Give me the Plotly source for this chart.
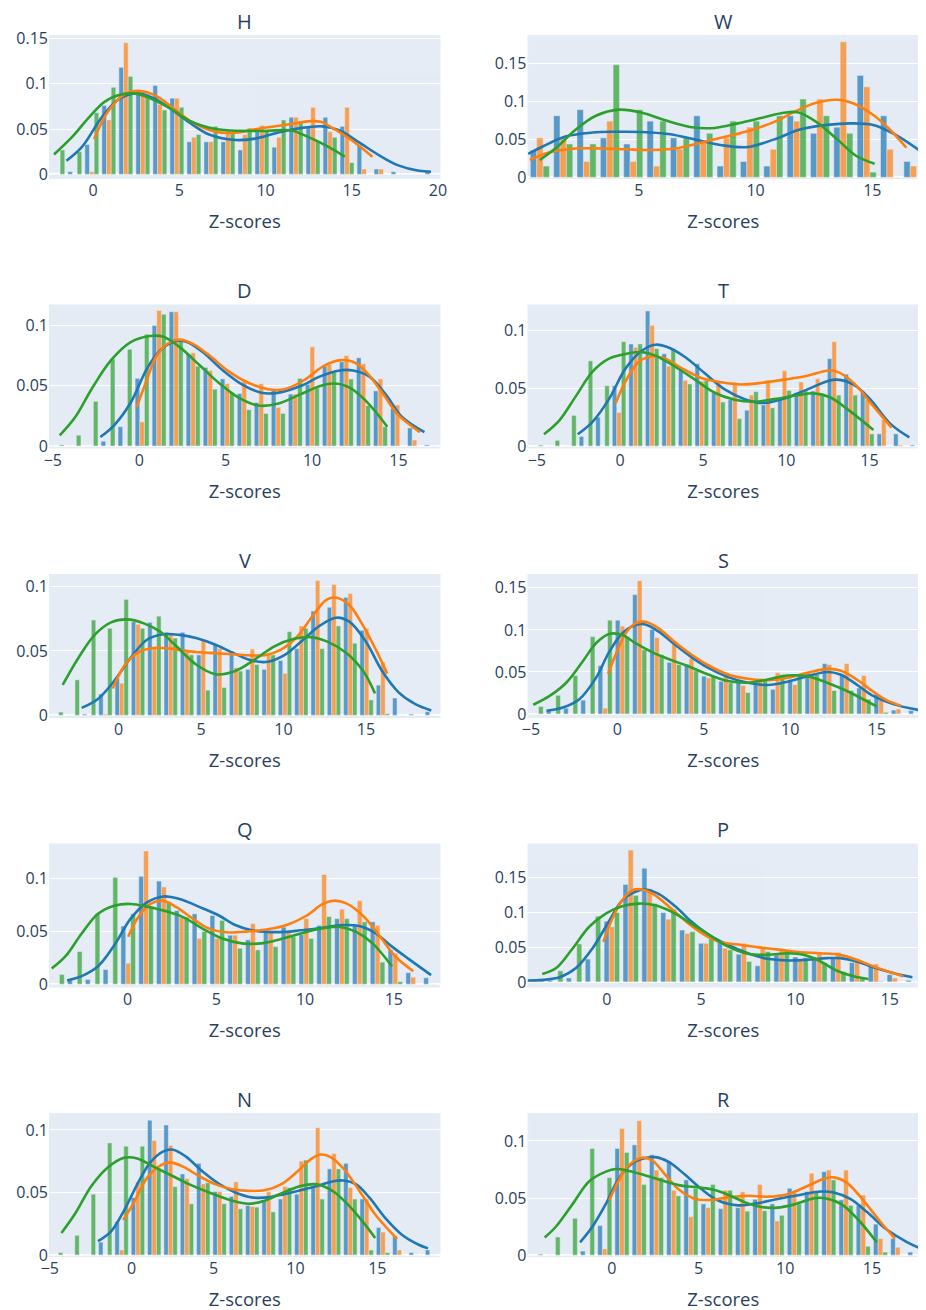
import plotly.graph_objects as go
from plotly.subplots import make_subplots

TITLES = ["H", "W", "D", "T", "V", "S", "Q", "P", "N", "R"]
SERIES_COLORS = ["#1f77b4", "#ff7f0e", "#2ca02c"]

# ---------------- H ----------------
H_start, H_step = -2.05, 0.987
H_blue = [0, 0.003, 0.033, 0.076, 0.118, 0.089, 0.098, 0.084, 0.036, 0.036, 0.036, 0.027, 0.051, 0.030, 0.063, 0.053, 0.063, 0.053, 0.032, 0.006, 0.003, 0, 0.003]
H_orange = [0, 0, 0.003, 0.060, 0.145, 0.091, 0.077, 0.084, 0.041, 0.036, 0.048, 0.044, 0.054, 0.041, 0.063, 0.074, 0.047, 0.074, 0.006, 0.006, 0, 0, 0]
H_green = [0.027, 0.025, 0.068, 0.096, 0.108, 0.088, 0.071, 0.074, 0.044, 0.053, 0.045, 0.051, 0.048, 0.060, 0.059, 0.037, 0.041, 0.013, 0, 0, 0, 0, 0]
H_bx = [-1.55, -0.66, 0.47, 1.42, 2.56, 3.5, 4.45, 5.6, 6.73, 8.25, 9.4, 10.7, 12.0, 13.3, 14.3, 15.45, 16.6, 17.7, 18.9, 19.6]
H_by = [0.015, 0.030, 0.062, 0.082, 0.0895, 0.084, 0.073, 0.057, 0.044, 0.038, 0.0395, 0.046, 0.051, 0.053, 0.0485, 0.035, 0.021, 0.010, 0.004, 0.003]
H_ox = [0.06, 0.85, 1.8, 2.75, 3.7, 4.65, 5.8, 7.1, 8.25, 9.76, 11.3, 12.6, 13.2, 13.9, 14.9, 16.2]
H_oy = [0.039, 0.069, 0.088, 0.092, 0.086, 0.073, 0.057, 0.047, 0.046, 0.051, 0.055, 0.0587, 0.058, 0.051, 0.039, 0.0196]
H_gx = [-2.27, -1.23, -0.28, 0.66, 1.61, 2.46, 3.3, 4.45, 5.6, 7.1, 8.6, 10.1, 11.5, 12.4, 13.55, 14.6]
H_gy = [0.022, 0.041, 0.062, 0.080, 0.088, 0.089, 0.084, 0.073, 0.059, 0.050, 0.048, 0.048, 0.0485, 0.042, 0.0315, 0.0196]

# ---------------- W ----------------
W_start, W_step = 0.76, 1.0
W_blue = [0.036, 0.081, 0.089, 0.052, 0.044, 0.074, 0.052, 0.081, 0.015, 0.021, 0.015, 0.081, 0.058, 0.066, 0.134, 0.081, 0.021]
W_orange = [0.052, 0.052, 0.021, 0.074, 0.021, 0.015, 0.037, 0.047, 0.052, 0.066, 0.037, 0.074, 0.103, 0.178, 0.119, 0.037, 0.015]
W_green = [0.015, 0.044, 0.044, 0.148, 0.089, 0.074, 0.052, 0.058, 0.074, 0.074, 0.081, 0.103, 0.081, 0.058, 0.007, 0, 0]
W_bx = [0.26, 0.9, 1.89, 3.02, 4.0, 5.14, 6.27, 7.4, 8.5, 9.67, 10.8, 11.9, 13.06, 14.05, 15.04, 16.0, 17.0]
W_by = [0.031, 0.041, 0.054, 0.059, 0.060, 0.0597, 0.057, 0.050, 0.0426, 0.040, 0.050, 0.063, 0.069, 0.071, 0.069, 0.056, 0.036]
W_ox = [0.33, 1.18, 2.3, 3.44, 4.43, 5.56, 6.56, 7.7, 8.8, 9.8, 10.8, 11.65, 12.6, 13.5, 14.2, 15.04, 15.75, 16.46]
W_oy = [0.023, 0.033, 0.038, 0.038, 0.037, 0.036, 0.038, 0.046, 0.054, 0.062, 0.073, 0.086, 0.098, 0.102, 0.097, 0.082, 0.063, 0.039]
W_gx = [0.76, 1.46, 2.3, 3.16, 4.15, 5.14, 6.13, 7.26, 8.25, 9.24, 10.23, 11.2, 11.8, 12.6, 13.5, 14.3, 15.1]
W_gy = [0.023, 0.039, 0.063, 0.081, 0.089, 0.085, 0.075, 0.066, 0.065, 0.071, 0.078, 0.085, 0.0856, 0.073, 0.050, 0.0285, 0.018]

# ---------------- D ----------------
D_start, D_step = -4.76, 0.985
D_blue = [0, 0, 0, 0.004, 0.016, 0.056, 0.0997, 0.111, 0.076, 0.065, 0.0555, 0.0434, 0.036, 0.046, 0.043, 0.051, 0.066, 0.0697, 0.073, 0.0456, 0.031, 0.015, 0.001]
D_orange = [0, 0, 0, 0, 0, 0.020, 0.112, 0.111, 0.077, 0.0625, 0.0515, 0.0536, 0.0515, 0.032, 0.043, 0.082, 0.0675, 0.0748, 0.068, 0.0555, 0.034, 0.005, 0]
D_green = [0.001, 0.009, 0.037, 0.072, 0.080, 0.0925, 0.109, 0.087, 0.066, 0.047, 0.044, 0.030, 0.027, 0.027, 0.056, 0.048, 0.061, 0.0555, 0.0335, 0.016, 0, 0, 0]
D_bx = [-2.25, -1.44, -0.49, 0.45, 1.21, 1.97, 2.72, 3.67, 4.8, 5.94, 7.07, 8.0, 9.34, 10.47, 11.6, 12.36, 13.3, 14.25, 15.2, 16.5]
D_by = [0.0075, 0.0174, 0.036, 0.064, 0.079, 0.0863, 0.0863, 0.0777, 0.063, 0.051, 0.044, 0.044, 0.0496, 0.0576, 0.0625, 0.0625, 0.0576, 0.0429, 0.024, 0.0115]
D_ox = [-0.15, 0.45, 1.02, 1.78, 2.34, 3.1, 4.05, 5.18, 6.31, 7.45, 8.4, 9.53, 10.66, 11.6, 12.36, 13.1, 14.06, 15.0, 16.24]
D_oy = [0.032, 0.055, 0.075, 0.0858, 0.088, 0.0845, 0.075, 0.0617, 0.0523, 0.047, 0.047, 0.0544, 0.066, 0.071, 0.0697, 0.0617, 0.044, 0.0255, 0.0115]
D_gx = [-4.6, -3.7, -2.76, -1.63, -0.49, 0.64, 1.4, 2.34, 3.48, 4.6, 5.75, 6.88, 8.0, 9.34, 10.47, 11.23, 12.17, 13.1, 14.35]
D_gy = [0.0088, 0.024, 0.047, 0.071, 0.086, 0.091, 0.0903, 0.0818, 0.067, 0.0523, 0.040, 0.0335, 0.0349, 0.0429, 0.0496, 0.0517, 0.0483, 0.0375, 0.016]

# ---------------- T ----------------
T_start, T_step = -5.03, 0.995
T_blue = [0, 0, 0, 0.0084, 0.025, 0.052, 0.088, 0.1165, 0.0796, 0.066, 0.071, 0.046, 0.040, 0.031, 0.0355, 0.040, 0.046, 0.0475, 0.0754, 0.062, 0.047, 0.0106, 0.0106, 0.001]
T_orange = [0, 0, 0, 0, 0, 0.029, 0.085, 0.104, 0.069, 0.0567, 0.056, 0.055, 0.055, 0.044, 0.0567, 0.065, 0.0553, 0.058, 0.090, 0.055, 0.040, 0.023, 0.001, 0]
T_green = [0.001, 0.005, 0.0265, 0.0735, 0.052, 0.090, 0.088, 0.084, 0.084, 0.0536, 0.0567, 0.038, 0.0237, 0.047, 0.033, 0.048, 0.0475, 0.044, 0.044, 0.044, 0.0106, 0, 0, 0]
T_bx = [-2.54, -1.65, -0.66, 0.34, 1.33, 2.13, 2.92, 3.91, 5.1, 6.3, 7.5, 8.68, 9.87, 11.27, 12.46, 13.05, 14.05, 15.04, 16.23, 17.4]
T_by = [0.0103, 0.021, 0.0405, 0.067, 0.0824, 0.0874, 0.085, 0.0768, 0.0628, 0.0489, 0.0405, 0.0372, 0.041, 0.0489, 0.0559, 0.0573, 0.053, 0.0405, 0.0196, 0.0075]
T_ox = [-0.26, 0.34, 1.13, 1.93, 2.72, 3.72, 4.9, 6.1, 7.29, 8.48, 9.87, 11.27, 12.46, 13.05, 14.05, 15.04, 16.33]
T_oy = [0.0369, 0.056, 0.0726, 0.0774, 0.0754, 0.067, 0.0587, 0.055, 0.0531, 0.0545, 0.0573, 0.0606, 0.065, 0.0642, 0.0545, 0.0377, 0.016]
T_gx = [-4.57, -3.64, -2.64, -1.65, -0.66, 0.54, 1.33, 2.13, 3.32, 4.51, 5.7, 6.9, 8.09, 9.28, 10.67, 11.66, 12.66, 13.65, 15.24]
T_gy = [0.0103, 0.0223, 0.0433, 0.0642, 0.0754, 0.080, 0.081, 0.078, 0.0684, 0.0573, 0.046, 0.040, 0.0383, 0.0405, 0.0439, 0.0455, 0.0419, 0.0321, 0.014]

# ---------------- V ----------------
V_start, V_step = -3.77, 0.99
V_blue = [0, 0, 0.001, 0.0166, 0.029, 0.0727, 0.0722, 0.0645, 0.0645, 0.047, 0.055, 0.050, 0.0357, 0.0357, 0.0426, 0.0518, 0.081, 0.0839, 0.0916, 0.066, 0.0235, 0.0135, 0.001, 0.003]
V_orange = [0, 0, 0, 0.001, 0.025, 0.0707, 0.052, 0.063, 0.050, 0.058, 0.052, 0.037, 0.0515, 0.048, 0.0327, 0.0694, 0.1046, 0.1015, 0.0946, 0.0676, 0.0413, 0, 0, 0]
V_green = [0.0026, 0.0276, 0.074, 0.0676, 0.090, 0.0676, 0.077, 0.060, 0.047, 0.0196, 0.0217, 0.0344, 0.0395, 0.047, 0.065, 0.0676, 0.0518, 0.0694, 0.056, 0.012, 0.0013, 0, 0, 0]
V_bx = [-2.24, -1.25, -0.26, 0.73, 1.72, 2.71, 3.7, 4.7, 5.88, 7.07, 8.06, 9.05, 10.05, 11.04, 12.2, 13.2, 13.99, 14.99, 15.98, 16.98, 17.97, 18.96]
V_by = [0.0059, 0.0128, 0.0268, 0.0446, 0.0587, 0.063, 0.0625, 0.060, 0.0548, 0.0477, 0.0426, 0.0416, 0.0467, 0.0569, 0.0696, 0.0758, 0.0727, 0.0574, 0.0344, 0.0179, 0.0089, 0.0038]
V_ox = [-0.36, 0.34, 1.13, 2.12, 3.11, 4.3, 5.49, 6.68, 7.87, 8.86, 9.85, 10.84, 11.83, 12.62, 13.22, 14.0, 14.8, 15.6, 16.29]
V_oy = [0.0209, 0.0383, 0.0485, 0.0523, 0.0518, 0.0497, 0.0485, 0.0477, 0.0467, 0.0467, 0.051, 0.0612, 0.0783, 0.0898, 0.0913, 0.0855, 0.0702, 0.051, 0.0324]
V_gx = [-3.39, -2.44, -1.45, -0.46, 0.53, 1.53, 2.52, 3.51, 4.7, 5.88, 7.07, 8.26, 9.45, 10.64, 11.63, 12.62, 13.81, 14.8, 15.55]
V_gy = [0.0237, 0.0446, 0.0625, 0.0722, 0.0745, 0.0714, 0.065, 0.0536, 0.0395, 0.0319, 0.0344, 0.0434, 0.0536, 0.0594, 0.0607, 0.0574, 0.0485, 0.035, 0.0171]

# ---------------- S ----------------
S_start, S_step = -4.7, 0.998
S_blue = [0, 0.004, 0.007, 0.0165, 0.0576, 0.1116, 0.142, 0.1007, 0.0615, 0.0595, 0.045, 0.039, 0.0372, 0.035, 0.0294, 0.041, 0.050, 0.060, 0.047, 0.031, 0.0235, 0.0047, 0.004]
S_orange = [0, 0, 0, 0, 0.007, 0.1046, 0.1586, 0.0909, 0.087, 0.066, 0.043, 0.049, 0.034, 0.041, 0.049, 0.035, 0.047, 0.0588, 0.060, 0.0458, 0.0196, 0.006, 0]
S_green = [0.009, 0.0223, 0.0458, 0.092, 0.1116, 0.092, 0.0764, 0.0705, 0.0588, 0.0517, 0.045, 0.0372, 0.0255, 0.040, 0.047, 0.047, 0.047, 0.028, 0.028, 0.0176, 0.002, 0, 0]
S_bx = [-4.1, -3.15, -2.2, -1.24, -0.48, 0.29, 1.05, 1.62, 2.39, 3.34, 4.3, 5.26, 6.4, 7.55, 8.7, 9.84, 11.0, 12.13, 12.9, 13.85, 14.8, 15.96, 17.45]
S_by = [0.004, 0.0078, 0.0176, 0.043, 0.0736, 0.096, 0.1058, 0.1065, 0.098, 0.0823, 0.0674, 0.0548, 0.0439, 0.0372, 0.0345, 0.0384, 0.045, 0.050, 0.047, 0.035, 0.0215, 0.0118, 0.0047]
S_ox = [-0.54, -0.1, 0.48, 1.05, 1.62, 2.39, 3.34, 4.3, 5.26, 6.4, 7.55, 8.7, 9.84, 11.0, 12.13, 12.9, 13.85, 14.8, 15.57, 16.4]
S_oy = [0.048, 0.0705, 0.096, 0.1077, 0.1097, 0.1018, 0.0854, 0.0705, 0.058, 0.047, 0.0419, 0.0403, 0.0431, 0.049, 0.0537, 0.0517, 0.0411, 0.0266, 0.0165, 0.0098]
S_gx = [-4.87, -3.92, -2.96, -2.0, -1.24, -0.48, 0.29, 1.05, 2.0, 2.96, 4.1, 5.26, 6.4, 7.55, 8.7, 9.84, 11.0, 12.13, 13.28, 15.0]
S_gy = [0.011, 0.0215, 0.0372, 0.0627, 0.0842, 0.0952, 0.094, 0.0842, 0.0736, 0.0654, 0.0568, 0.047, 0.0392, 0.0372, 0.0411, 0.0458, 0.045, 0.0372, 0.0274, 0.009]

# ---------------- Q ----------------
Q_start, Q_step = -3.97, 1.003
Q_blue = [0, 0.004, 0.0046, 0.014, 0.055, 0.102, 0.0975, 0.0697, 0.0666, 0.065, 0.0464, 0.042, 0.051, 0.054, 0.047, 0.0557, 0.062, 0.056, 0.059, 0.0325, 0.011, 0.0062]
Q_orange = [0, 0, 0, 0, 0.020, 0.126, 0.092, 0.0635, 0.0433, 0.0433, 0.0464, 0.0573, 0.0495, 0.050, 0.062, 0.1037, 0.071, 0.079, 0.0557, 0.0294, 0.0068, 0]
Q_green = [0.0093, 0.031, 0.0666, 0.101, 0.0666, 0.074, 0.078, 0.0635, 0.050, 0.0604, 0.034, 0.0325, 0.0356, 0.045, 0.0433, 0.064, 0.062, 0.059, 0.021, 0.0025, 0, 0]
Q_bx = [-3.4, -2.58, -1.66, -0.74, 0.18, 1.1, 2.02, 2.94, 4.23, 5.15, 6.07, 7.0, 7.9, 8.84, 9.76, 10.86, 12.15, 13.07, 13.99, 14.9, 15.83, 17.1]
Q_by = [0.0037, 0.0077, 0.017, 0.037, 0.062, 0.0774, 0.083, 0.0805, 0.0718, 0.065, 0.056, 0.051, 0.0495, 0.0495, 0.051, 0.053, 0.056, 0.055, 0.048, 0.0356, 0.024, 0.0087]
Q_ox = [0.04, 0.55, 1.29, 2.02, 2.76, 3.68, 4.6, 5.7, 6.8, 7.9, 9.0, 10.1, 11.0, 11.6, 12.33, 13.25, 14.17, 15.09, 16.1]
Q_oy = [0.0449, 0.062, 0.0759, 0.079, 0.0728, 0.062, 0.0526, 0.049, 0.050, 0.052, 0.0563, 0.065, 0.0759, 0.079, 0.0765, 0.065, 0.0464, 0.0263, 0.0124]
Q_gx = [-4.27, -3.5, -2.58, -1.66, -0.74, 0.18, 1.1, 2.02, 3.13, 4.23, 5.34, 6.44, 7.55, 8.65, 9.76, 10.86, 11.96, 12.88, 13.8, 14.9]
Q_gy = [0.0149, 0.0263, 0.048, 0.0666, 0.0743, 0.0759, 0.0734, 0.0697, 0.0635, 0.0526, 0.0433, 0.0387, 0.0387, 0.0427, 0.048, 0.0526, 0.0542, 0.0495, 0.0387, 0.017]

# ---------------- P ----------------
P_start, P_step = -3.73, 1.0
P_blue = [0.001, 0.002, 0.0057, 0.033, 0.0876, 0.1405, 0.1638, 0.100, 0.0748, 0.0557, 0.058, 0.040, 0.0233, 0.039, 0.036, 0.036, 0.035, 0.028, 0.0224, 0.0105, 0.0024]
P_orange = [0, 0, 0, 0, 0.0795, 0.190, 0.1343, 0.0905, 0.070, 0.0557, 0.0486, 0.0557, 0.0486, 0.045, 0.0305, 0.0414, 0.0428, 0.0305, 0.026, 0.0057, 0]
P_green = [0.002, 0.016, 0.0548, 0.0948, 0.100, 0.1248, 0.1129, 0.1048, 0.0724, 0.065, 0.0462, 0.0295, 0.0438, 0.046, 0.035, 0.028, 0.015, 0.0048, 0.001, 0, 0]
P_bx = [-4.2, -3.38, -2.5, -1.63, -0.75, 0.12, 0.82, 1.52, 2.05, 2.75, 3.63, 4.5, 5.38, 6.43, 7.48, 8.53, 9.58, 10.63, 11.68, 12.38, 13.26, 14.13, 15.18, 16.2]
P_by = [0.002, 0.003, 0.0067, 0.020, 0.0486, 0.0876, 0.1176, 0.130, 0.1333, 0.127, 0.109, 0.0867, 0.0686, 0.0533, 0.0414, 0.0333, 0.031, 0.0319, 0.0343, 0.0343, 0.0295, 0.021, 0.0129, 0.0067]
P_ox = [-0.18, 0.3, 0.82, 1.35, 1.87, 2.57, 3.45, 4.33, 5.2, 6.08, 7.13, 8.18, 9.23, 10.28, 11.33, 12.38, 13.26, 14.13, 15.0, 15.71]
P_oy = [0.058, 0.0914, 0.1176, 0.1319, 0.1333, 0.1248, 0.1048, 0.0843, 0.0676, 0.0571, 0.0533, 0.0495, 0.0462, 0.0429, 0.0414, 0.039, 0.0319, 0.0224, 0.0143, 0.0081]
P_gx = [-3.42, -2.68, -1.8, -0.93, -0.05, 0.82, 1.7, 2.57, 3.45, 4.33, 5.38, 6.43, 7.48, 8.53, 9.58, 10.46, 11.33, 12.2, 13.08, 13.87]
P_gy = [0.0114, 0.020, 0.0486, 0.0795, 0.0986, 0.109, 0.1129, 0.1105, 0.101, 0.0867, 0.0686, 0.051, 0.0405, 0.039, 0.0414, 0.039, 0.0295, 0.0162, 0.0081, 0.0043]

# ---------------- N ----------------
N_start, N_step = -4.61, 0.998
N_blue = [0, 0, 0, 0.0104, 0.0267, 0.046, 0.1078, 0.1039, 0.0648, 0.0733, 0.0508, 0.0469, 0.0396, 0.0435, 0.0448, 0.0487, 0.0539, 0.0689, 0.0733, 0.0448, 0.022, 0.015, 0.002, 0.0041]
N_orange = [0, 0, 0, 0, 0.0041, 0.0585, 0.0915, 0.0876, 0.0611, 0.057, 0.0508, 0.0585, 0.0389, 0.0508, 0.0547, 0.0751, 0.1018, 0.0811, 0.054, 0.0448, 0.0184, 0.0041, 0, 0]
N_green = [0.002, 0.0158, 0.0487, 0.0896, 0.087, 0.087, 0.0694, 0.0547, 0.041, 0.0578, 0.041, 0.037, 0.0383, 0.0345, 0.0539, 0.0759, 0.0448, 0.0689, 0.0448, 0.0041, 0.002, 0, 0, 0]
N_bx = [-2.06, -1.26, -0.46, 0.34, 1.14, 1.94, 2.53, 3.33, 4.33, 5.33, 6.33, 7.33, 8.32, 9.32, 10.32, 11.32, 12.32, 12.91, 13.71, 14.51, 15.51, 16.5, 17.5, 18.1]
N_by = [0.0111, 0.019, 0.0358, 0.0565, 0.0741, 0.0829, 0.0842, 0.0785, 0.0668, 0.057, 0.050, 0.0461, 0.0461, 0.0487, 0.0518, 0.0552, 0.059, 0.0596, 0.0565, 0.0461, 0.0293, 0.0163, 0.0085, 0.0054]
N_ox = [-0.52, 0.14, 0.94, 1.74, 2.34, 3.13, 4.13, 5.13, 6.13, 7.13, 8.12, 9.12, 10.12, 10.92, 11.52, 12.12, 12.91, 13.91, 14.91, 16.21]
N_oy = [0.028, 0.0422, 0.0617, 0.0715, 0.0741, 0.0707, 0.063, 0.0565, 0.0526, 0.0513, 0.0518, 0.0565, 0.0668, 0.0764, 0.0803, 0.0785, 0.0694, 0.0513, 0.0319, 0.013]
N_gx = [-4.29, -3.45, -2.46, -1.46, -0.46, 0.34, 1.34, 2.34, 3.53, 4.73, 6.13, 7.13, 8.12, 9.12, 10.32, 11.32, 12.32, 13.31, 14.11, 14.87]
N_gy = [0.0176, 0.0332, 0.0552, 0.070, 0.0777, 0.0772, 0.0707, 0.0642, 0.0565, 0.050, 0.0435, 0.041, 0.0435, 0.0492, 0.0552, 0.0565, 0.0508, 0.0389, 0.0267, 0.0137]

# ---------------- R ----------------
R_start, R_step = -4.38, 0.9935
R_blue = [0, 0, 0, 0.0037, 0.026, 0.0935, 0.0966, 0.088, 0.0822, 0.066, 0.045, 0.0408, 0.0417, 0.049, 0.045, 0.0586, 0.0558, 0.0732, 0.0485, 0.0437, 0.0273, 0.0146, 0.0028]
R_orange = [0, 0, 0, 0, 0.0056, 0.111, 0.1177, 0.0746, 0.0569, 0.0338, 0.0417, 0.0569, 0.0555, 0.062, 0.030, 0.055, 0.0718, 0.0746, 0.0746, 0.0527, 0.0146, 0.007, 0]
R_green = [0.001, 0.016, 0.0324, 0.0935, 0.068, 0.090, 0.062, 0.068, 0.052, 0.0586, 0.062, 0.0569, 0.0386, 0.039, 0.035, 0.045, 0.0558, 0.066, 0.0437, 0.0079, 0.0028, 0, 0]
R_bx = [-1.83, -1.1, -0.34, 0.42, 1.18, 1.94, 2.51, 3.28, 4.23, 5.18, 6.13, 7.28, 8.42, 9.56, 10.9, 12.04, 12.8, 13.75, 14.7, 15.85, 16.99, 17.71]
R_by = [0.0113, 0.0254, 0.045, 0.0676, 0.0803, 0.0851, 0.0859, 0.0817, 0.0704, 0.0577, 0.0479, 0.0437, 0.0456, 0.0493, 0.053, 0.0558, 0.0549, 0.0493, 0.038, 0.0225, 0.0118, 0.0065]
R_ox = [-0.15, 0.42, 0.99, 1.75, 2.32, 3.09, 3.85, 4.8, 5.75, 6.7, 7.85, 8.99, 10.13, 11.28, 12.23, 12.8, 13.56, 14.51, 15.47, 16.32]
R_oy = [0.0479, 0.0662, 0.0789, 0.0854, 0.0831, 0.0704, 0.0577, 0.0493, 0.0485, 0.0507, 0.0521, 0.0513, 0.0535, 0.0606, 0.067, 0.0682, 0.0634, 0.0479, 0.0296, 0.0146]
R_gx = [-3.87, -3.2, -2.25, -1.3, -0.34, 0.23, 0.99, 1.94, 2.9, 3.85, 4.8, 5.75, 6.7, 7.66, 8.61, 9.56, 10.51, 11.66, 12.23, 13.18, 14.13, 15.28]
R_gy = [0.0155, 0.0254, 0.045, 0.0648, 0.0732, 0.0755, 0.0738, 0.0699, 0.0654, 0.0614, 0.0597, 0.0577, 0.053, 0.0465, 0.0423, 0.0417, 0.0445, 0.0499, 0.0501, 0.0451, 0.0324, 0.0113]

# ------------- assemble -------------
panels = [
    (H_start, H_step, (H_blue, H_orange, H_green), ((H_bx, H_by), (H_ox, H_oy), (H_gx, H_gy))),
    (W_start, W_step, (W_blue, W_orange, W_green), ((W_bx, W_by), (W_ox, W_oy), (W_gx, W_gy))),
    (D_start, D_step, (D_blue, D_orange, D_green), ((D_bx, D_by), (D_ox, D_oy), (D_gx, D_gy))),
    (T_start, T_step, (T_blue, T_orange, T_green), ((T_bx, T_by), (T_ox, T_oy), (T_gx, T_gy))),
    (V_start, V_step, (V_blue, V_orange, V_green), ((V_bx, V_by), (V_ox, V_oy), (V_gx, V_gy))),
    (S_start, S_step, (S_blue, S_orange, S_green), ((S_bx, S_by), (S_ox, S_oy), (S_gx, S_gy))),
    (Q_start, Q_step, (Q_blue, Q_orange, Q_green), ((Q_bx, Q_by), (Q_ox, Q_oy), (Q_gx, Q_gy))),
    (P_start, P_step, (P_blue, P_orange, P_green), ((P_bx, P_by), (P_ox, P_oy), (P_gx, P_gy))),
    (N_start, N_step, (N_blue, N_orange, N_green), ((N_bx, N_by), (N_ox, N_oy), (N_gx, N_gy))),
    (R_start, R_step, (R_blue, R_orange, R_green), ((R_bx, R_by), (R_ox, R_oy), (R_gx, R_gy))),
]

# axis ranges (layout)
x_ranges = [[-2.56, 20.15], [0.23, 17.0], [-5.22, 17.43], [-5.56, 17.98], [-4.22, 19.52],
            [-5.2, 17.45], [-4.42, 17.63], [-4.2, 16.55], [-5.05, 18.86], [-4.86, 17.71]]
y_ranges = [[-0.005, 0.1536], [-0.002, 0.187], [-0.002, 0.117], [-0.002, 0.122], [-0.002, 0.1097],
            [-0.0047, 0.1665], [-0.003, 0.133], [-0.008, 0.1995], [-0.0015, 0.1135], [-0.0015, 0.1245]]

fig = make_subplots(rows=5, cols=2, subplot_titles=TITLES,
                    horizontal_spacing=0.1, vertical_spacing=0.1027)

for i, (start, step, bars, curves) in enumerate(panels):
    r, c = i // 2 + 1, i % 2 + 1
    n = len(bars[0])
    centers = [start + k * step for k in range(n)]
    for vals, col in zip(bars, SERIES_COLORS):
        fig.add_trace(go.Bar(x=centers, y=vals, marker_color=col, opacity=0.7,
                             showlegend=False), row=r, col=c)
    for (cx, cy), col in zip(curves, SERIES_COLORS):
        fig.add_trace(go.Scatter(x=cx, y=cy, mode="lines",
                                 line=dict(color=col, width=2.6, shape="spline"),
                                 showlegend=False), row=r, col=c)
    fig.update_xaxes(range=x_ranges[i], showgrid=False, zeroline=False,
                     title_text="Z-scores", title_font=dict(size=18.5),
                     tickfont=dict(size=16), row=r, col=c)
    fig.update_yaxes(range=y_ranges[i], tickfont=dict(size=16), row=r, col=c)

fig.update_annotations(font=dict(size=20, color="#2a3f5f"), yshift=-2)
fig.update_layout(width=926, height=1310, barmode="group", bargap=0.18, bargroupgap=0,
                  font=dict(color="#2a3f5f"),
                  margin=dict(l=35, r=8, t=27, b=61), showlegend=False)

fig.write_html("out.html")
